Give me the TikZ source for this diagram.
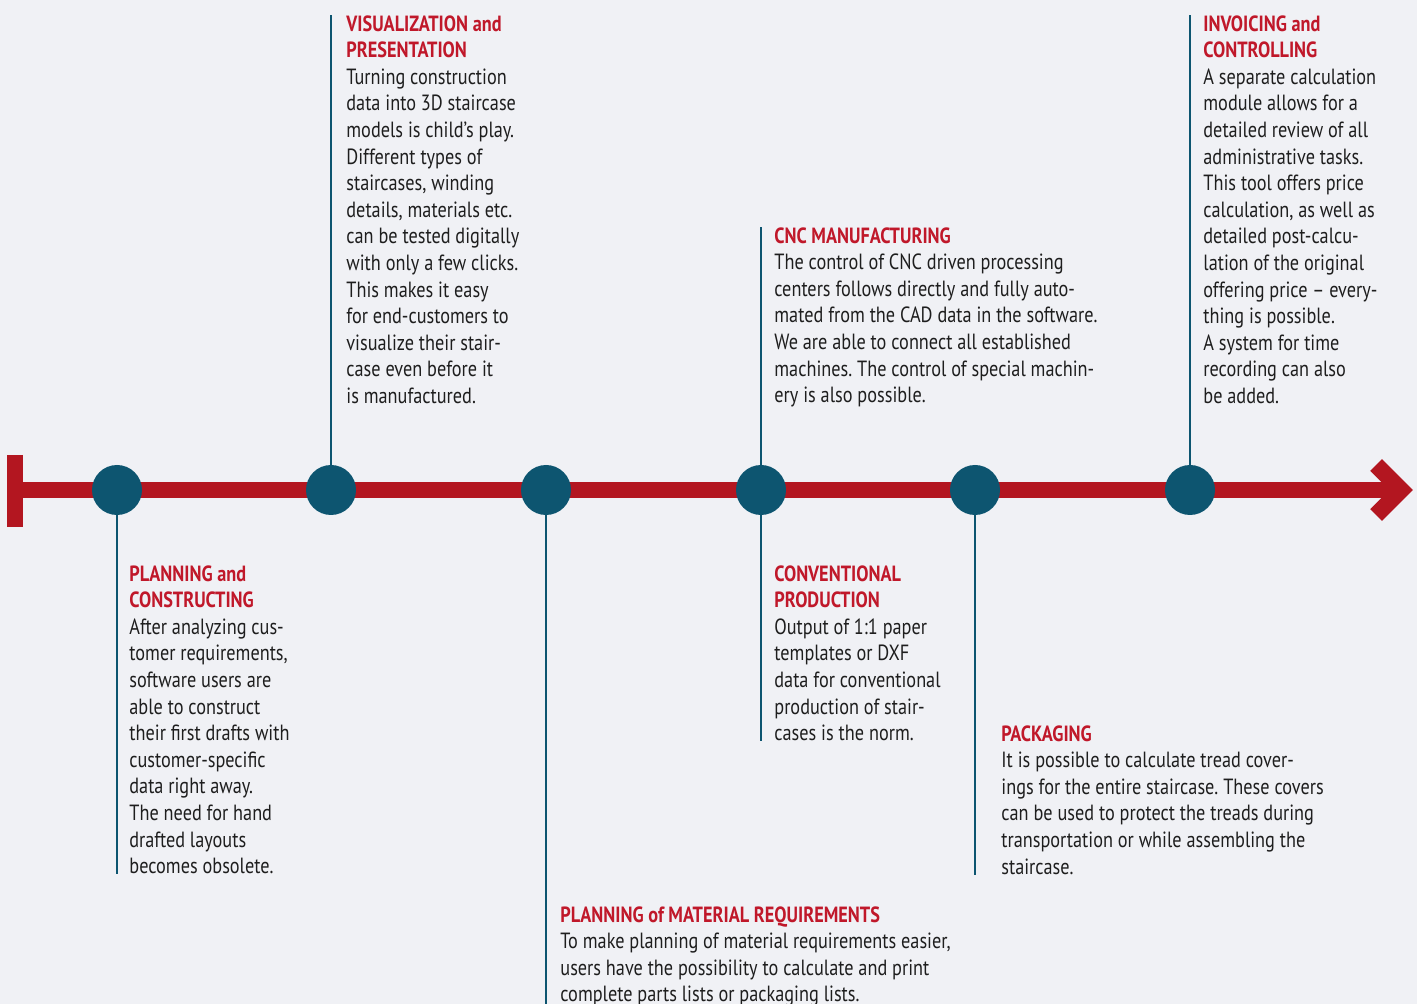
\documentclass[tikz,border=0pt]{standalone}
\usepackage{fontspec}
\setmainfont{PT Sans}[FakeStretch=0.83]
\definecolor{bgGray}{HTML}{F0F1F5}
\definecolor{lineRed}{HTML}{B31620}
\definecolor{headRed}{HTML}{C0182A}
\definecolor{dotTeal}{HTML}{0D5570}
\definecolor{bodyInk}{HTML}{1E1E1E}

\providecommand*{\lineY}{}
\renewcommand*{\lineY}{490}
\newcommand*{\head}[1]{{\color{headRed}\bfseries #1}}

\tikzset{
  dot/.style={circle,fill=dotTeal,minimum size=25pt,inner sep=0pt},
  stem/.style={dotTeal,line width=1.3pt},
  info/.style={anchor=north west,inner sep=0pt,align=left,text=bodyInk,
    font=\fontsize{11pt}{13.3pt}\selectfont\frenchspacing},
}

\begin{document}
\begin{tikzpicture}[x=0.5pt,y=-0.5pt]
  \fill [bgGray] (0,0) rectangle (1417,1004);
  \useasboundingbox (0,0) rectangle (1417,1004);

  % time line
  \draw [lineRed,line width=7.8pt] (15,455) -- (15,527);
  \draw [lineRed,line width=8.3pt] (15,\lineY) -- (1398,\lineY);
  \draw [lineRed,line width=8.3pt,miter limit=4] (1376,465) -- (1401,\lineY) -- (1376,515);

  \foreach \x [count=\i] in {117,331,546,761,975,1190} {
    \node [dot] (c\i) at (\x,\lineY) {};
  }

  % texts
  \node [info] (t1) at (129,565) {\head{PLANNING and}\\\head{CONSTRUCTING}\\
    After analyzing cus-\\tomer requirements,\\software users are\\able to construct\\
    their first drafts with\\customer-specific\\data right away.\\The need for hand\\
    drafted layouts\\becomes obsolete.};
  \node [info] (t2) at (346,15) {\head{VISUALIZATION and}\\\head{PRESENTATION}\\
    Turning construction\\data into 3D staircase\\models is child’s play.\\
    Different types of\\staircases, winding\\details, materials etc.\\
    can be tested digitally\\with only a few clicks.\\This makes it easy\\
    for end-customers to\\visualize their stair-\\case even before it\\is manufactured.};
  \node [info] (t3) at (560,906) {\head{PLANNING of MATERIAL REQUIREMENTS}\\
    To make planning of material requirements easier,\\
    users have the possibility to calculate and print\\
    complete parts lists or packaging lists.};
  \node [info] (t4) at (774,227) {\head{CNC MANUFACTURING}\\
    The control of CNC driven processing\\centers follows directly and fully auto-\\
    mated from the CAD data in the software.\\We are able to connect all established\\
    machines. The control of special machin-\\ery is also possible.};
  \node [info] (t5) at (774,565) {\head{CONVENTIONAL}\\\head{PRODUCTION}\\
    Output of 1:1 paper\\templates or DXF\\data for conventional\\
    production of stair-\\cases is the norm.};
  \node [info] (t6) at (1001,725) {\head{PACKAGING}\\
    It is possible to calculate tread cover-\\ings for the entire staircase. These covers\\
    can be used to protect the treads during\\transportation or while assembling the\\staircase.};
  \node [info] (t7) at (1203,15) {\head{INVOICING and}\\\head{CONTROLLING}\\
    A separate calculation\\module allows for a\\detailed review of all\\
    administrative tasks.\\This tool offers price\\calculation, as well as\\
    detailed post-calcu-\\lation of the original\\offering price – every-\\
    thing is possible.\\A system for time\\recording can also\\be added.};

  % stems
  \coordinate (e3) at (546,1004);
  \draw [stem] (c1.south) -- (c1 |- t1.south);
  \draw [stem] (c2.north) -- (c2 |- t2.north);
  \draw [stem] (c3.south) -- (e3);
  \draw [stem] (c4.north) -- (c4 |- t4.north);
  \draw [stem] (c4.south) -- (c4 |- t5.south);
  \draw [stem] (c5.south) -- (c5 |- t6.south);
  \draw [stem] (c6.north) -- (c6 |- t7.north);
\end{tikzpicture}
\end{document}
